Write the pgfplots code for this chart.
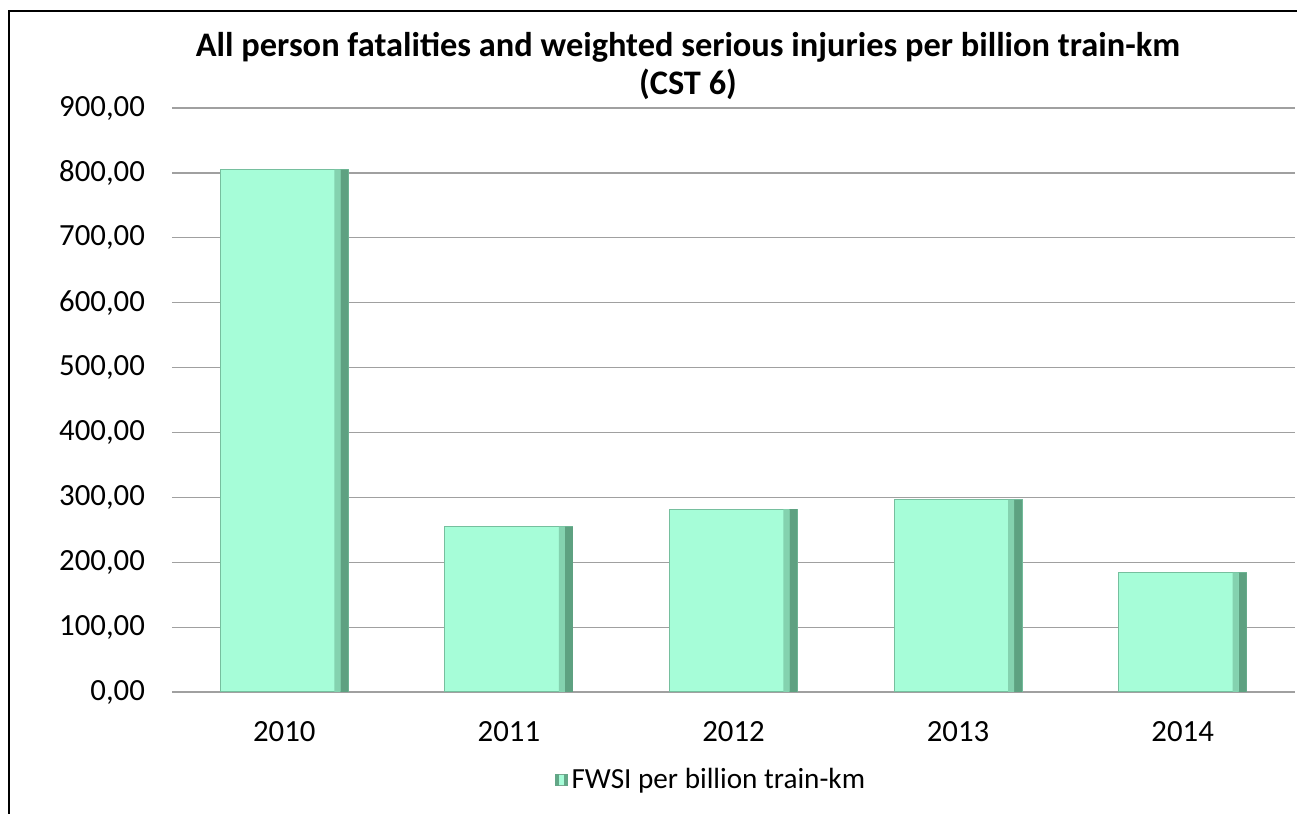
\documentclass[border=0pt]{standalone}
\usepackage{pgfplots}
\pgfplotsset{compat=1.18}
\usepackage{fontspec}
\setmainfont{Carlito}
\definecolor{mint}{RGB}{166,253,216}
\definecolor{mintdark}{RGB}{70,130,100}
\definecolor{minttop}{RGB}{215,255,250}
\definecolor{gridgray}{RGB}{160,160,160}
\begin{document}
\begin{tikzpicture}
\useasboundingbox (0,0) rectangle (648.5pt,407pt);
\draw[line width=1pt,black] (4.5pt,0pt) -- (4.5pt,401.5pt) -- (648.5pt,401.5pt);
\node[font=\fontsize{17.2}{20}\selectfont\bfseries, align=center] at (344pt,374pt)
  {All person fatalities and weighted serious injuries per billion train-km\\[-1pt](CST 6)};
\begin{axis}[
  at={(86pt,61pt)}, anchor=south west,
  scale only axis, width=561.5pt, height=292pt,
  ybar, bar width=64pt,
  xmin=-0.5, xmax=4.5, ymin=0, ymax=900,
  xtick={0,1,2,3,4}, xticklabels={2010,2011,2012,2013,2014},
  ytick={0,100,...,900},
  axis line style={draw=none},
  major tick length=0pt,
  ymajorgrids, grid style={gridgray, line width=0.6pt},
  /pgf/number format/fixed, /pgf/number format/fixed zerofill,
  /pgf/number format/precision=2, /pgf/number format/use comma,
  /pgf/number format/1000 sep={},
  /pgf/number format/assume math mode=true,
  tick label style={font=\fontsize{15.4}{17}\selectfont},
  yticklabel style={xshift=-10pt},
  xticklabel style={yshift=-11pt},
  legend style={at={(0.481,-0.151)}, anchor=center, draw=none, fill=none, inner sep=0pt, font=\fontsize{14.6}{16}\selectfont},
  legend cell align=left,
]
\addplot[fill=mint, draw=mintdark!50!mint, line width=0.5pt,
  legend image code/.code={\fill[mint, draw=mintdark!70] (0cm,-0.1cm) rectangle (0.2cm,0.1cm);\fill[mintdark!70!mint] (0.15cm,-0.1cm) rectangle (0.2cm,0.1cm);\fill[mintdark!70!mint] (0cm,-0.1cm) rectangle (0.05cm,0.1cm);}] coordinates {(0,805) (1,255) (2,282) (3,296) (4,184)};
\addlegendentry{FWSI per billion train-km}
\addplot[bar shift=30pt, bar width=4pt, draw=none, fill=mintdark!75!mint, forget plot] coordinates {(0,805) (1,255) (2,282) (3,296) (4,184)};
\addplot[bar shift=26.5pt, bar width=3pt, draw=none, fill=mintdark!35!mint, forget plot] coordinates {(0,805) (1,255) (2,282) (3,296) (4,184)};
\end{axis}
\end{tikzpicture}
\end{document}
